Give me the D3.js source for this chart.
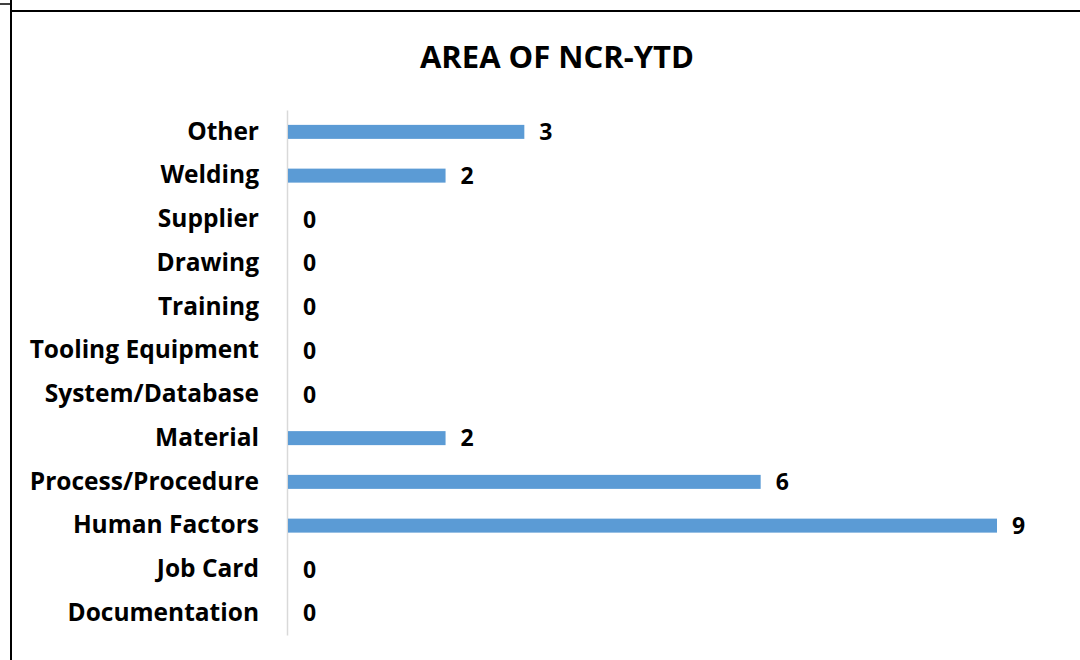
<!DOCTYPE html>
<html>
<head>
<meta charset="utf-8">
<script src="https://cdn.jsdelivr.net/npm/d3@7"></script>
<style>
  body { margin: 0; background: #fff; }
  svg { display: block; }
</style>
</head>
<body>
<div id="chart"></div>
<script>
// data, top row first
const categories = ["Other", "Welding", "Supplier", "Drawing", "Training", "Tooling Equipment",
  "System/Database", "Material", "Process/Procedure", "Human Factors", "Job Card", "Documentation"]
const values = [3, 2, 0, 0, 0, 0, 0, 2, 6, 9, 0, 0]
const title = "AREA OF NCR-YTD"

const W = 1080, H = 660
const font = "'Open Sans', Lato, sans-serif"

const svg = d3.select("#chart").append("svg")
  .attr("width", W)
  .attr("height", H)
  .style("font-family", font)

// frame lines (cropped sheet border)
svg.append("line").attr("x1", 11).attr("x2", 11).attr("y1", 0).attr("y2", H)
  .attr("stroke", "#000").attr("stroke-width", 2)
svg.append("line").attr("x1", 11).attr("x2", W).attr("y1", 11).attr("y2", 11)
  .attr("stroke", "#000").attr("stroke-width", 2)
svg.append("line").attr("x1", 0).attr("x2", 11).attr("y1", 4).attr("y2", 4)
  .attr("stroke", "#000").attr("stroke-width", 1.5)

// scales
const x = d3.scaleLinear()
  .domain([0, 9])
  .range([288, 997])

const y = d3.scaleBand()
  .domain(categories)
  .range([110, 635])
  .paddingInner(0.68)
  .paddingOuter(0.34)

// title
svg.append("text")
  .attr("x", 557)
  .attr("y", 68)
  .attr("text-anchor", "middle")
  .attr("font-weight", "bold")
  .attr("font-size", 31)
  .attr("fill", "#000")
  .text(title)

// category axis
const yAxis = d3.axisLeft(y).tickSize(0).tickPadding(28)
const gy = svg.append("g")
  .attr("transform", `translate(${x(0) - 1},0)`)
  .call(yAxis)
gy.select(".domain").attr("stroke", "#d9d9d9").attr("stroke-width", 1.5)
gy.selectAll("text")
  .attr("font-family", font)
  .attr("font-weight", "bold")
  .attr("font-size", 24.5)
  .attr("fill", "#000")

const rows = categories.map((c, i) => ({ cat: c, val: values[i] }))

// bars
svg.append("g")
  .selectAll("rect")
  .data(rows)
  .join("rect")
  .attr("x", x(0))
  .attr("y", d => y(d.cat))
  .attr("width", d => x(d.val) - x(0))
  .attr("height", y.bandwidth())
  .attr("fill", "#5b9bd5")

// value labels
svg.append("g")
  .selectAll("text")
  .data(rows)
  .join("text")
  .attr("x", d => x(d.val) + 15)
  .attr("y", d => y(d.cat) + y.bandwidth() / 2)
  .attr("dy", "0.36em")
  .attr("font-weight", "bold")
  .attr("font-size", 23)
  .attr("fill", "#000")
  .text(d => d.val)
</script>
</body>
</html>
